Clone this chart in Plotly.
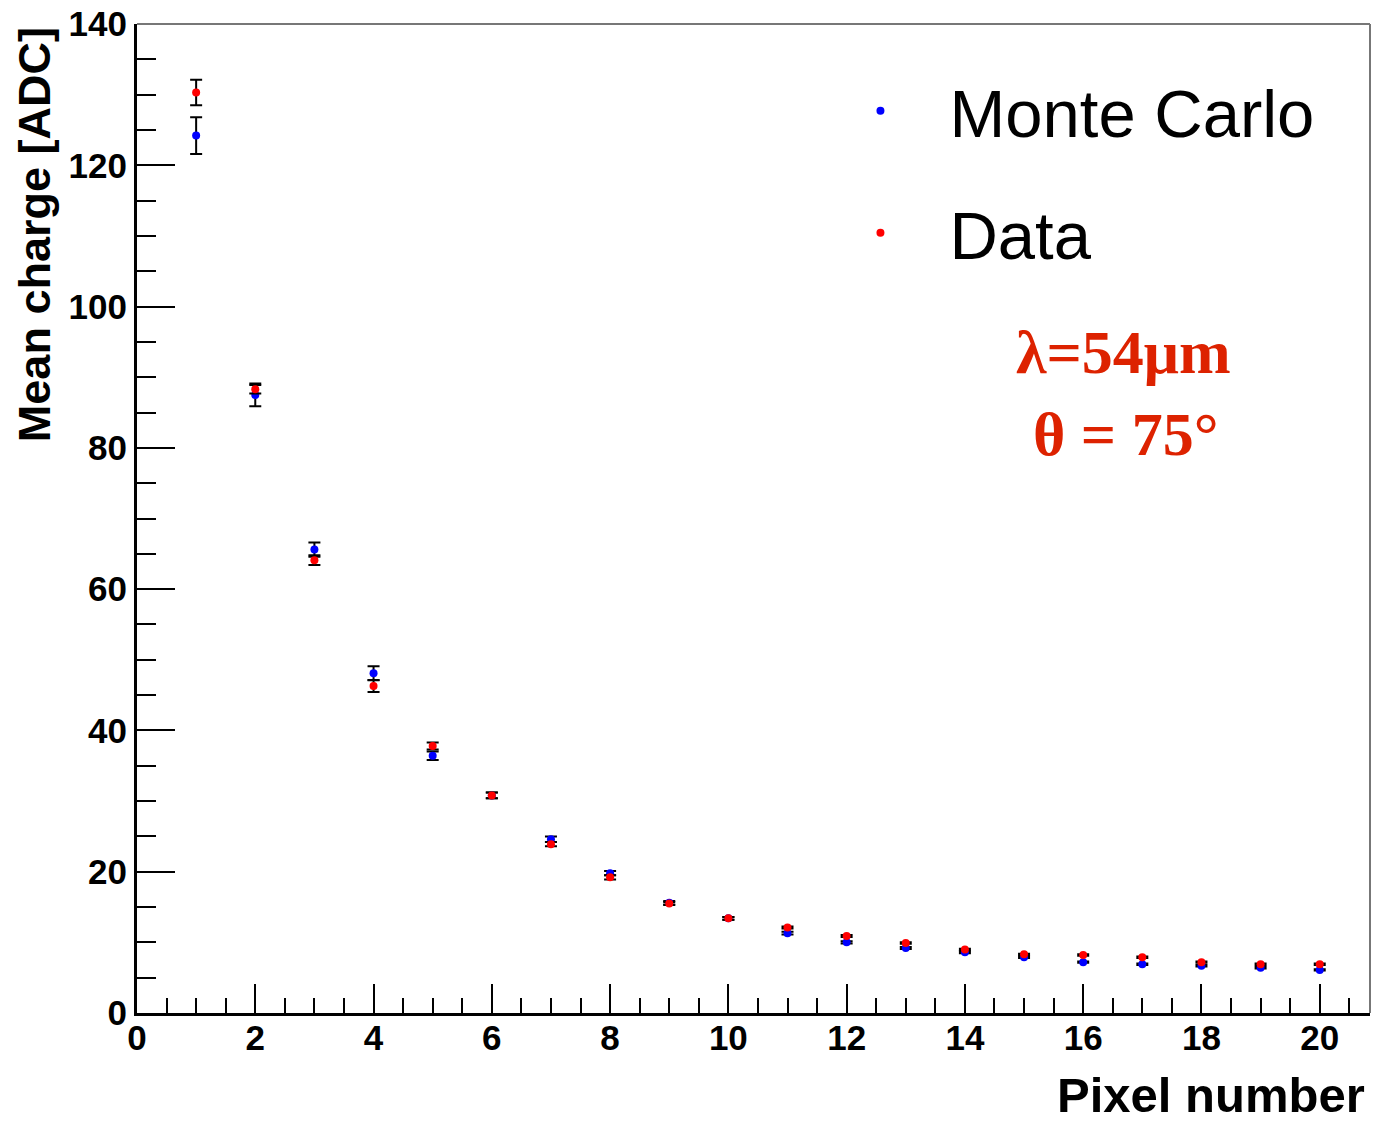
import plotly.graph_objects as go

pixels = list(range(1, 21))
mc_charge = [124.2, 87.5, 65.6, 48.1, 36.4, 30.8, 24.6, 19.8, 15.6, 13.4,
             11.3, 10.0, 9.2, 8.6, 7.9, 7.2, 6.9, 6.7, 6.4, 6.1]
mc_err = [2.6, 1.6, 1.0, 1.0, 0.6, 0.4, 0.4, 0.3, 0.25, 0.2,
          0.2, 0.15, 0.15, 0.15, 0.1, 0.1, 0.1, 0.1, 0.1, 0.1]
data_charge = [130.3, 88.3, 64.1, 46.3, 37.8, 30.8, 23.9, 19.2, 15.5, 13.4,
               12.1, 10.9, 9.9, 9.0, 8.3, 8.2, 7.9, 7.2, 6.9, 6.9]
data_err = [1.8, 0.6, 0.7, 0.85, 0.5, 0.4, 0.3, 0.3, 0.2, 0.2,
            0.15, 0.15, 0.1, 0.1, 0.1, 0.1, 0.1, 0.1, 0.1, 0.1]

x_ticks = [0, 2, 4, 6, 8, 10, 12, 14, 16, 18, 20]
y_ticks = [0, 20, 40, 60, 80, 100, 120, 140]

fig = go.Figure()
fig.add_trace(go.Scatter(
    x=pixels, y=mc_charge, mode="markers", name="Monte Carlo",
    legendgroup="mc",
    marker=dict(color="#0000ff", size=8, symbol="circle"),
    error_y=dict(type="data", array=mc_err, color="black", thickness=2, width=6),
))
fig.add_trace(go.Scatter(
    x=pixels, y=data_charge, mode="markers", name="Data",
    legendgroup="data",
    marker=dict(color="#ff0000", size=8, symbol="circle"),
    error_y=dict(type="data", array=data_err, color="black", thickness=2, width=6),
))

tickfont = dict(family="Liberation Sans", size=35, color="black", weight="bold")

fig.update_xaxes(
    range=[0, 20.85], tickvals=x_ticks, ticktext=[str(v) for v in x_ticks],
    ticks="inside", ticklen=29, tickwidth=2, tickcolor="black",
    minor=dict(ticks="inside", ticklen=15, dtick=0.5, tick0=0, tickwidth=2, tickcolor="black"),
    showline=True, linewidth=3, linecolor="black",
    showgrid=False, zeroline=False, tickfont=tickfont, ticklabelstandoff=-8,
)
fig.update_yaxes(
    range=[0, 140], tickvals=y_ticks, ticktext=[str(v) for v in y_ticks],
    ticks="inside", ticklen=38, tickwidth=2, tickcolor="black",
    minor=dict(ticks="inside", ticklen=19, dtick=5, tick0=0, tickwidth=2, tickcolor="black"),
    showline=True, linewidth=3, linecolor="black",
    showgrid=False, zeroline=False, tickfont=tickfont,
)

# top / right frame
fig.add_shape(type="line", xref="paper", yref="paper", x0=0, x1=1, y0=1, y1=1,
              line=dict(color="#777777", width=2))
fig.add_shape(type="line", xref="paper", yref="paper", x0=1, x1=1, y0=0, y1=1,
              line=dict(color="#777777", width=2))

fig.add_annotation(text="Mean charge [ADC]", xref="paper", yref="paper",
                   x=-0.083, y=0.999, xanchor="center", yanchor="top",
                   textangle=-90, showarrow=False,
                   font=dict(family="Liberation Sans", size=45, color="black", weight="bold"))
fig.add_annotation(text="Pixel number", xref="paper", yref="paper",
                   x=0.9976, y=-0.0826, xanchor="right", yanchor="middle",
                   showarrow=False,
                   font=dict(family="Liberation Sans", size=49, color="black", weight="bold"))

fig.add_annotation(text="λ=54μm", x=16.68, y=93.6, showarrow=False,
                   xanchor="center", yanchor="middle",
                   font=dict(family="Liberation Serif", size=62, color="#dd2200", weight="bold"))
fig.add_annotation(text="θ = 75°", x=16.73, y=82.0, showarrow=False,
                   xanchor="center", yanchor="middle",
                   font=dict(family="Liberation Serif", size=62, color="#dd2200", weight="bold"))

fig.update_layout(
    width=1374, height=1121,
    margin=dict(l=137, r=4, t=21, b=108),
    paper_bgcolor="white", plot_bgcolor="white",
    showlegend=True,
    legend=dict(x=0.547, y=0.963, xanchor="left", yanchor="top",
                bgcolor="rgba(0,0,0,0)", tracegroupgap=32, itemwidth=128,
                font=dict(family="Liberation Sans", size=67, color="black")),
)

fig.write_html("out.html")
